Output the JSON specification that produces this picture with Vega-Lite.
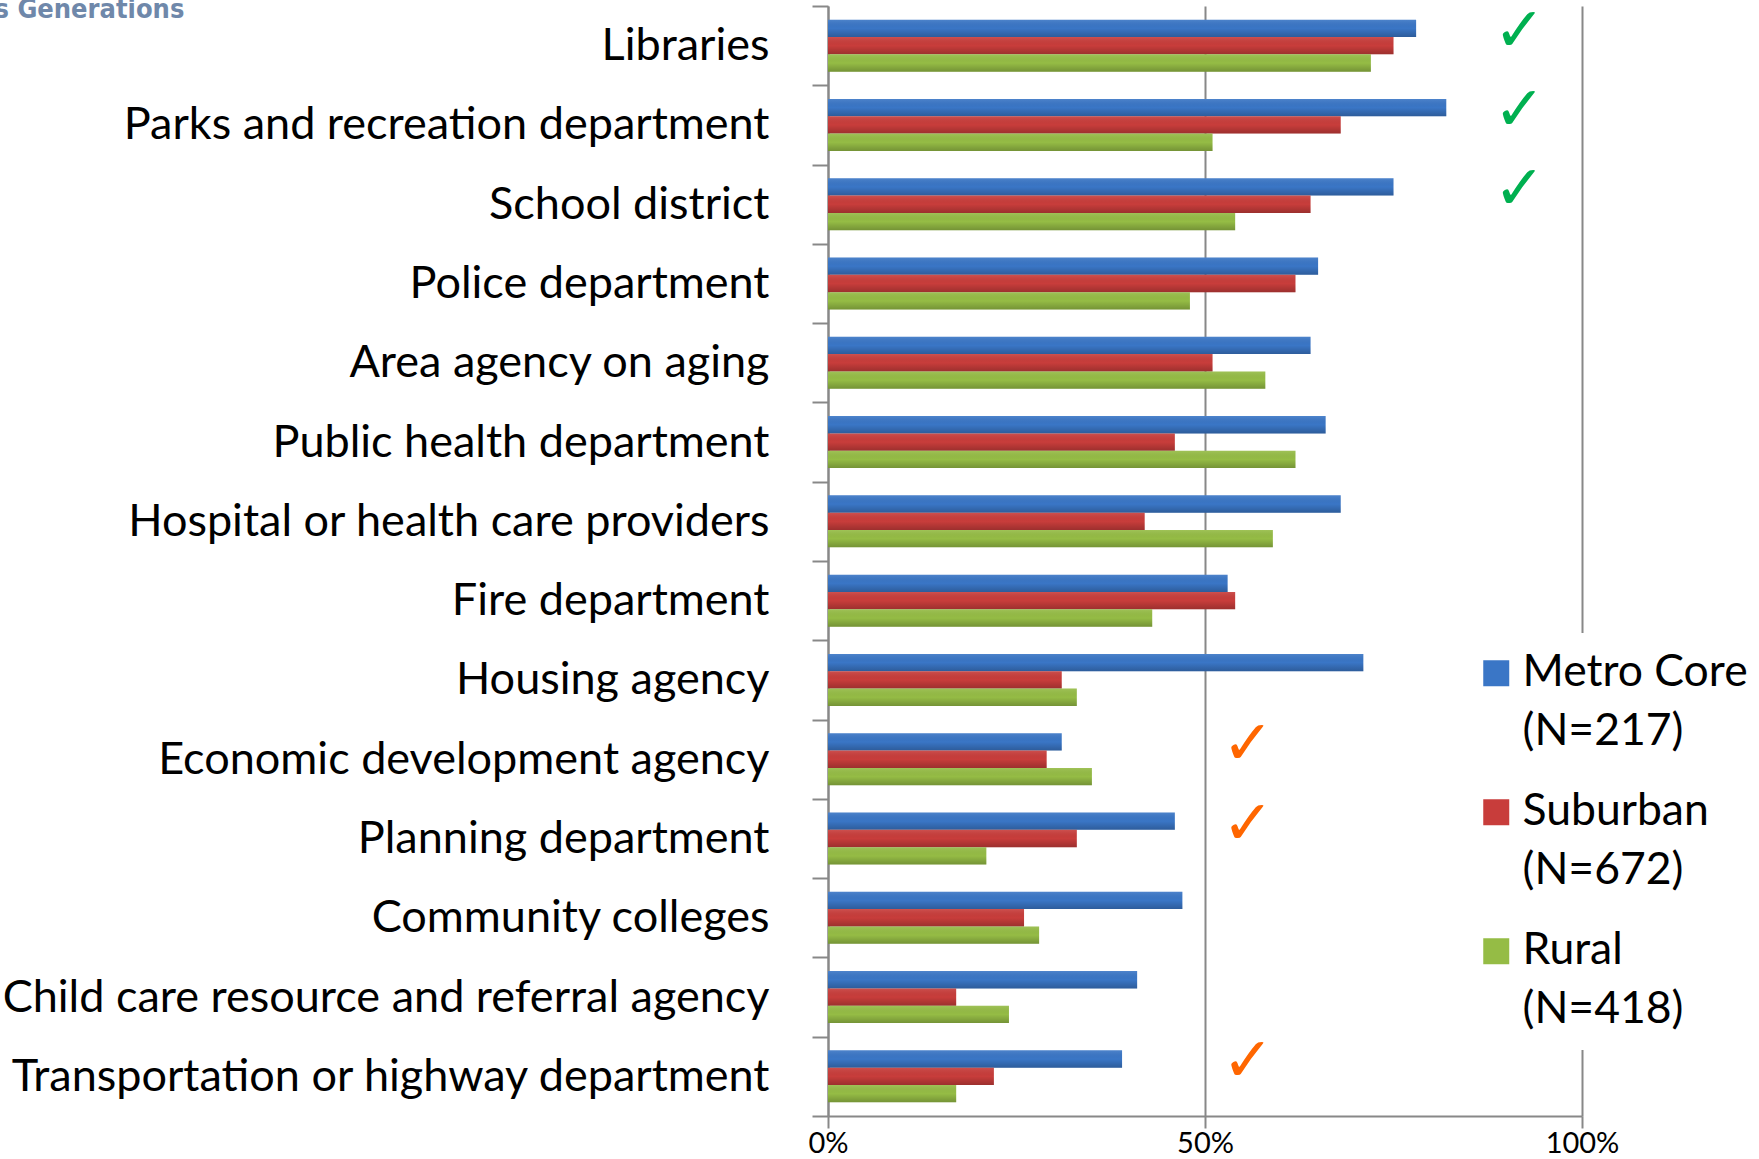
{
  "$schema": "https://vega.github.io/schema/vega-lite/v6.json",
  "autosize": {"type": "none"},
  "width": 754,
  "height": 1110,
  "padding": {"left": 828, "top": 6, "right": 177, "bottom": 43},
  "background": "white",
  "config": {
    "view": {"stroke": null},
    "style": {"guide-label": {"lineHeight": 59}}
  },
  "datasets": {
    "bars": [
      {"category": "Libraries", "series": "Metro Core (N=217)", "share": 0.78},
      {"category": "Libraries", "series": "Suburban (N=672)", "share": 0.75},
      {"category": "Libraries", "series": "Rural (N=418)", "share": 0.72},
      {"category": "Parks and recreation department", "series": "Metro Core (N=217)", "share": 0.82},
      {"category": "Parks and recreation department", "series": "Suburban (N=672)", "share": 0.68},
      {"category": "Parks and recreation department", "series": "Rural (N=418)", "share": 0.51},
      {"category": "School district", "series": "Metro Core (N=217)", "share": 0.75},
      {"category": "School district", "series": "Suburban (N=672)", "share": 0.64},
      {"category": "School district", "series": "Rural (N=418)", "share": 0.54},
      {"category": "Police department", "series": "Metro Core (N=217)", "share": 0.65},
      {"category": "Police department", "series": "Suburban (N=672)", "share": 0.62},
      {"category": "Police department", "series": "Rural (N=418)", "share": 0.48},
      {"category": "Area agency on aging", "series": "Metro Core (N=217)", "share": 0.64},
      {"category": "Area agency on aging", "series": "Suburban (N=672)", "share": 0.51},
      {"category": "Area agency on aging", "series": "Rural (N=418)", "share": 0.58},
      {"category": "Public health department", "series": "Metro Core (N=217)", "share": 0.66},
      {"category": "Public health department", "series": "Suburban (N=672)", "share": 0.46},
      {"category": "Public health department", "series": "Rural (N=418)", "share": 0.62},
      {"category": "Hospital or health care providers", "series": "Metro Core (N=217)", "share": 0.68},
      {"category": "Hospital or health care providers", "series": "Suburban (N=672)", "share": 0.42},
      {"category": "Hospital or health care providers", "series": "Rural (N=418)", "share": 0.59},
      {"category": "Fire department", "series": "Metro Core (N=217)", "share": 0.53},
      {"category": "Fire department", "series": "Suburban (N=672)", "share": 0.54},
      {"category": "Fire department", "series": "Rural (N=418)", "share": 0.43},
      {"category": "Housing agency", "series": "Metro Core (N=217)", "share": 0.71},
      {"category": "Housing agency", "series": "Suburban (N=672)", "share": 0.31},
      {"category": "Housing agency", "series": "Rural (N=418)", "share": 0.33},
      {"category": "Economic development agency", "series": "Metro Core (N=217)", "share": 0.31},
      {"category": "Economic development agency", "series": "Suburban (N=672)", "share": 0.29},
      {"category": "Economic development agency", "series": "Rural (N=418)", "share": 0.35},
      {"category": "Planning department", "series": "Metro Core (N=217)", "share": 0.46},
      {"category": "Planning department", "series": "Suburban (N=672)", "share": 0.33},
      {"category": "Planning department", "series": "Rural (N=418)", "share": 0.21},
      {"category": "Community colleges", "series": "Metro Core (N=217)", "share": 0.47},
      {"category": "Community colleges", "series": "Suburban (N=672)", "share": 0.26},
      {"category": "Community colleges", "series": "Rural (N=418)", "share": 0.28},
      {"category": "Child care resource and referral agency", "series": "Metro Core (N=217)", "share": 0.41},
      {"category": "Child care resource and referral agency", "series": "Suburban (N=672)", "share": 0.17},
      {"category": "Child care resource and referral agency", "series": "Rural (N=418)", "share": 0.24},
      {"category": "Transportation or highway department", "series": "Metro Core (N=217)", "share": 0.39},
      {"category": "Transportation or highway department", "series": "Suburban (N=672)", "share": 0.22},
      {"category": "Transportation or highway department", "series": "Rural (N=418)", "share": 0.17}
    ],
    "checks": [
      {"category": "Libraries", "kind": "green", "pos": 0.917, "symbol": "✓"},
      {"category": "Parks and recreation department", "kind": "green", "pos": 0.917, "symbol": "✓"},
      {"category": "School district", "kind": "green", "pos": 0.917, "symbol": "✓"},
      {"category": "Economic development agency", "kind": "orange", "pos": 0.557, "symbol": "✓"},
      {"category": "Planning department", "kind": "orange", "pos": 0.557, "symbol": "✓"},
      {"category": "Transportation or highway department", "kind": "orange", "pos": 0.557, "symbol": "✓"}
    ]
  },
  "layer": [
    {
      "data": {"name": "bars"},
      "mark": {"type": "bar", "orient": "horizontal"},
      "encoding": {
        "y": {
          "field": "category",
          "type": "nominal",
          "sort": null,
          "scale": {"paddingInner": 0, "paddingOuter": 0},
          "axis": {
            "title": "s Generations",
            "titleAngle": 0,
            "titleX": -834,
            "titleY": 11,
            "titleAlign": "left",
            "titleBaseline": "alphabetic",
            "titleFont": "DejaVu Sans Condensed, Liberation Sans, sans-serif",
            "titleFontWeight": "bold",
            "titleFontSize": 27,
            "titleColor": "#6f88aa",
            "labelFont": "Lato",
            "labelFontSize": 45,
            "labelColor": "#000000",
            "labelLimit": 0,
            "labelPadding": 43,
            "tickBand": "extent",
            "tickSize": 16,
            "tickColor": "#888888",
            "tickWidth": 2,
            "domainColor": "#888888",
            "domainWidth": 2,
            "grid": false
          }
        },
        "yOffset": {
          "field": "series",
          "type": "nominal",
          "sort": ["Metro Core (N=217)", "Suburban (N=672)", "Rural (N=418)"],
          "scale": {"paddingInner": 0, "paddingOuter": 0.786}
        },
        "x": {
          "field": "share",
          "type": "quantitative",
          "scale": {"domain": [0, 1], "nice": false},
          "axis": {
            "title": null,
            "values": [0, 0.5, 1],
            "format": ".0%",
            "labelFont": "Lato",
            "labelFontSize": 29,
            "labelColor": "#000000",
            "labelBaseline": "alphabetic",
            "labelFlush": false,
            "labelPadding": 24,
            "tickSize": 12,
            "tickColor": "#888888",
            "tickWidth": 2,
            "domainColor": "#888888",
            "domainWidth": 2,
            "grid": true,
            "gridColor": "#888888",
            "gridWidth": 2
          }
        },
        "color": {
          "field": "series",
          "type": "nominal",
          "scale": {
            "domain": ["Metro Core (N=217)", "Suburban (N=672)", "Rural (N=418)"],
            "range": ["#3a76c6", "#c83d3b", "#95bc45"]
          },
          "legend": {
            "title": null,
            "orient": "none",
            "legendX": 628,
            "legendY": 627,
            "padding": 18,
            "fillColor": "white",
            "symbolType": "square",
            "symbolSize": 676,
            "symbolStrokeWidth": 0,
            "symbolOpacity": 1,
            "labelFont": "Lato",
            "labelFontSize": 44.5,
            "labelColor": "#000000",
            "labelLimit": 0,
            "labelOffset": 4,
            "labelBaseline": "middle",
            "rowPadding": 35,
            "labelExpr": "[substring(datum.label, 0, indexof(datum.label, ' (')), substring(datum.label, indexof(datum.label, ' (') + 1)]"
          }
        }
      }
    },
    {
      "data": {"name": "bars"},
      "mark": {
        "type": "bar",
        "orient": "horizontal",
        "color": {
          "gradient": "linear", "x1": 0, "y1": 0, "x2": 0, "y2": 1,
          "stops": [
            {"offset": 0, "color": "rgba(255,255,255,0.10)"},
            {"offset": 0.5, "color": "rgba(0,0,0,0)"},
            {"offset": 1, "color": "rgba(0,0,0,0.22)"}
          ]
        }
      },
      "encoding": {
        "y": {"field": "category", "type": "nominal", "sort": null},
        "yOffset": {
          "field": "series",
          "type": "nominal",
          "sort": ["Metro Core (N=217)", "Suburban (N=672)", "Rural (N=418)"]
        },
        "x": {"field": "share", "type": "quantitative"}
      }
    },
    {
      "data": {"name": "checks"},
      "mark": {"type": "text", "font": "DejaVu Sans", "fontSize": 62, "fontWeight": "bold", "fontStyle": "italic", "dy": -14, "align": "center", "baseline": "middle"},
      "encoding": {
        "y": {"field": "category", "type": "nominal", "sort": null},
        "x": {"field": "pos", "type": "quantitative"},
        "text": {"field": "symbol"},
        "color": {
          "condition": {"test": "datum.kind === 'green'", "value": "#00b050"},
          "value": "#ff6600"
        }
      }
    }
  ]
}
